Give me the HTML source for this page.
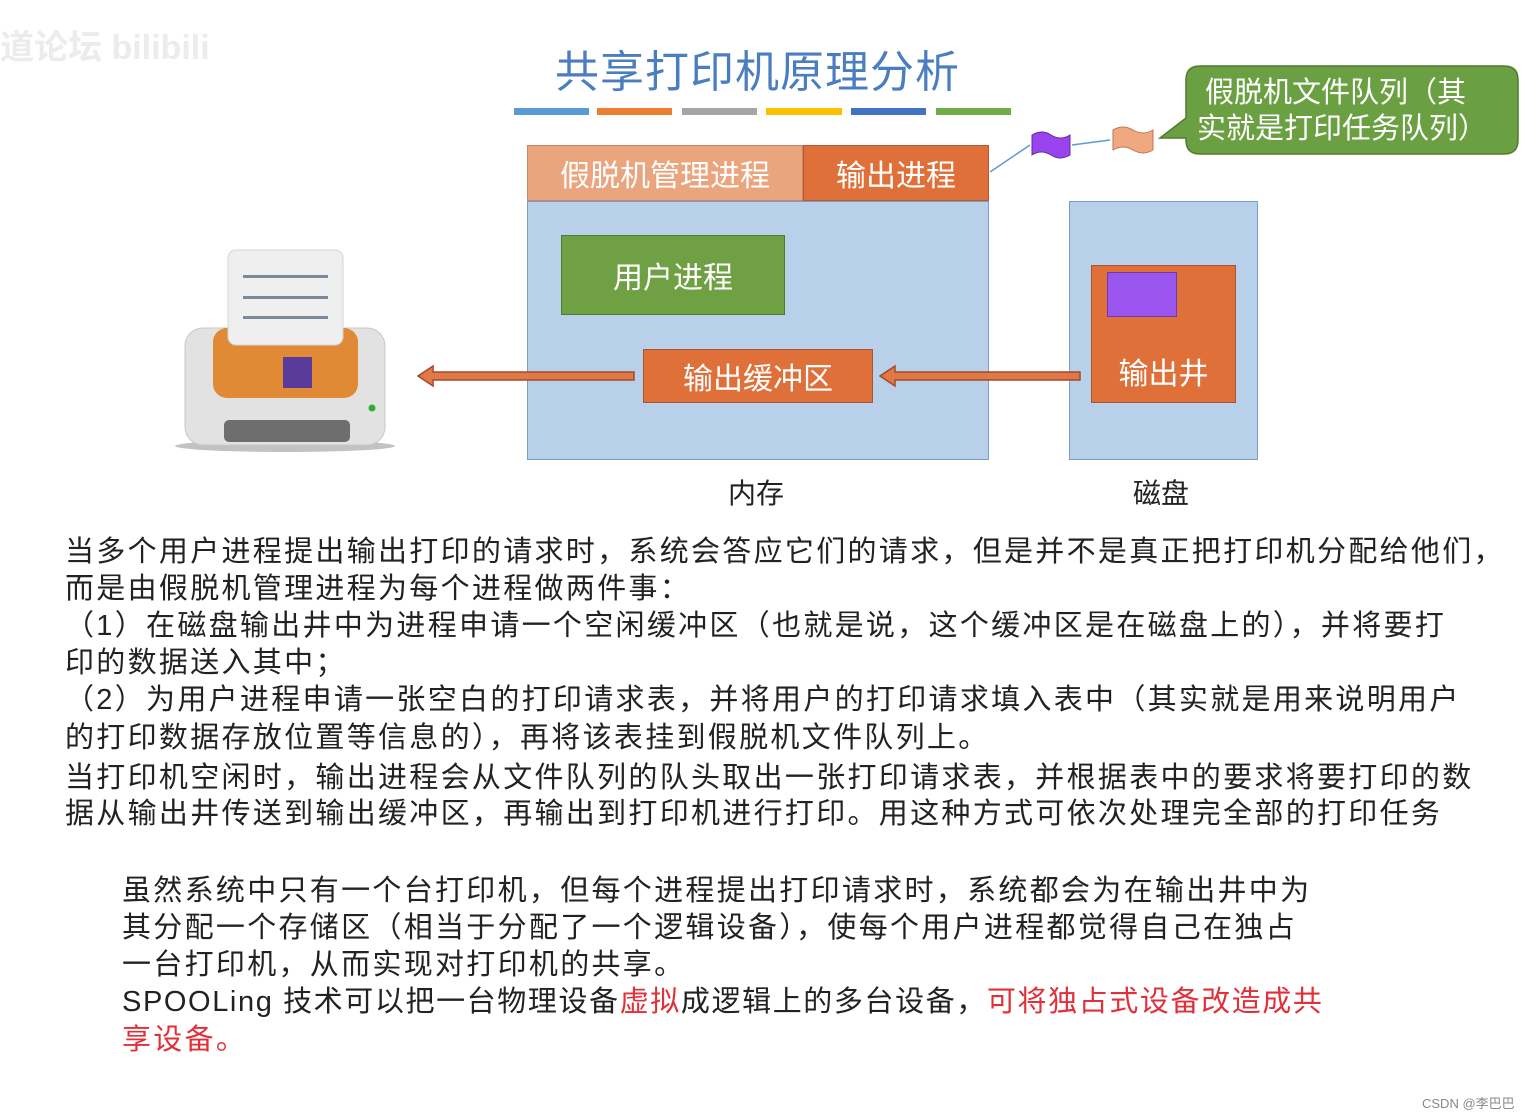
<!DOCTYPE html>
<html><head><meta charset="utf-8"><style>
body{margin:0;width:1536px;height:1118px;background:#fff;position:relative;overflow:hidden;font-family:"Liberation Sans","Noto Sans CJK SC",sans-serif}
.a{position:absolute;white-space:nowrap}
.t{font-size:29px;letter-spacing:2.3px;color:#222;line-height:37px}
.b{position:absolute;box-sizing:border-box;color:#fff;display:flex;align-items:center;justify-content:center;font-size:30px}
.r{color:#e0303a}
</style></head><body>
<div class="a" style="left:0;top:20px;font-size:34px;color:#ececec;font-weight:bold">道论坛 bilibili</div>
<div class="a" style="left:555px;top:36px;font-size:44px;color:#4a7ec0;letter-spacing:1px">共享打印机原理分析</div>
<div class="a" style="left:514px;top:108px;width:75px;height:7px;background:#5b9bd5"></div>
<div class="a" style="left:597px;top:108px;width:75px;height:7px;background:#ed7d31"></div>
<div class="a" style="left:682px;top:108px;width:75px;height:7px;background:#a5a5a5"></div>
<div class="a" style="left:766px;top:108px;width:76px;height:7px;background:#ffc000"></div>
<div class="a" style="left:851px;top:108px;width:75px;height:7px;background:#4472c4"></div>
<div class="a" style="left:936px;top:108px;width:75px;height:7px;background:#70ad47"></div>

<div class="b" style="left:527px;top:201px;width:462px;height:259px;background:#b8d0ea;border:1.5px solid #7a9cc8"></div>
<div class="b" style="left:527px;top:145px;width:276px;height:56px;background:#eaa57e;border:1px solid #c88866">假脱机管理进程</div>
<div class="b" style="left:803px;top:145px;width:186px;height:56px;background:#e0703a;border:1px solid #b85a2e">输出进程</div>
<div class="b" style="left:561px;top:235px;width:224px;height:80px;background:#70a044;border:1px solid #4f7a30">用户进程</div>
<div class="b" style="left:643px;top:349px;width:230px;height:54px;background:#e0703a;border:1px solid #a85530">输出缓冲区</div>
<div class="b" style="left:1069px;top:201px;width:189px;height:259px;background:#b8d0ea;border:1.5px solid #7a9cc8"></div>
<div class="b" style="left:1091px;top:265px;width:145px;height:138px;background:#e0703a;border:1px solid #a85530;padding-top:74px">输出井</div>
<div class="a" style="left:1107px;top:272px;width:68px;height:43px;background:#9955ee;border:1px solid #6a3ab0"></div>
<div class="a" style="left:728px;top:472px;font-size:28px;color:#222">内存</div>
<div class="a" style="left:1133px;top:472px;font-size:28px;color:#222">磁盘</div>

<svg class="a" style="left:0;top:0" width="1536" height="520">
<polygon points="1080,372 895,372 895,366 880,376 895,386 895,380 1080,380" fill="#e07848" stroke="#a04a28" stroke-width="1.5"/>
<polygon points="634,372 433,372 433,366 418,376 433,386 433,380 634,380" fill="#e07848" stroke="#a04a28" stroke-width="1.5"/>
<line x1="990" y1="172" x2="1030" y2="145" stroke="#5b9bd5" stroke-width="1.5"/>
<line x1="1072" y1="145" x2="1110" y2="140" stroke="#5b9bd5" stroke-width="1.5"/>
<path d="M1032,135 q10,-6 19,0 q10,6 19,0 v20 q-10,6 -19,0 q-10,-6 -19,0z" fill="#9944ee" stroke="#5a2aa0"/>
<path d="M1113,130 q10,-6 20,0 q10,6 20,0 v20 q-10,6 -20,0 q-10,-6 -20,0z" fill="#f0a880" stroke="#c07050"/>
<path d="M1200,66 h304 q14,0 14,14 v60 q0,14 -14,14 h-304 q-14,0 -14,-14 v-2 l-26,0 l26,-20 v-38 q0,-14 14,-14z" fill="#6aa042" stroke="#4f7a30" stroke-width="1.5"/>
<text x="1205" y="102" font-size="29" fill="#fff" font-family="Liberation Sans,Noto Sans CJK SC,sans-serif">假脱机文件队列（其</text>
<text x="1197" y="138" font-size="29" fill="#fff" font-family="Liberation Sans,Noto Sans CJK SC,sans-serif">实就是打印任务队列）</text>
<ellipse cx="285" cy="446" rx="110" ry="6" fill="#999" opacity="0.6"/>
<rect x="185" y="328" width="200" height="117" rx="18" fill="#e2e2e2" stroke="#c8c8c8"/>
<rect x="213" y="328" width="145" height="70" rx="14" fill="#e08a36"/>
<rect x="228" y="250" width="115" height="95" rx="8" fill="#efefef" stroke="#d4d4d4"/>
<rect x="243" y="275" width="85" height="3" fill="#7a8a98"/>
<rect x="243" y="296" width="85" height="3" fill="#7a8a98"/>
<rect x="243" y="316" width="85" height="3" fill="#7a8a98"/>
<rect x="283" y="357" width="29" height="31" fill="#5a3a9a"/>
<rect x="224" y="420" width="126" height="22" rx="5" fill="#6e6e6e"/>
<circle cx="372" cy="408" r="3.5" fill="#3a3"/>
</svg>

<div class="a t" style="left:65px;top:534px">当多个用户进程提出输出打印的请求时，系统会答应它们的请求，但是并不是真正把打印机分配给他们，</div>
<div class="a t" style="left:65px;top:571px">而是由假脱机管理进程为每个进程做两件事：</div>
<div class="a t" style="left:65px;top:608px">（1）在磁盘输出井中为进程申请一个空闲缓冲区（也就是说，这个缓冲区是在磁盘上的），并将要打</div>
<div class="a t" style="left:65px;top:645px">印的数据送入其中；</div>
<div class="a t" style="left:65px;top:682px">（2）为用户进程申请一张空白的打印请求表，并将用户的打印请求填入表中（其实就是用来说明用户</div>
<div class="a t" style="left:65px;top:720px">的打印数据存放位置等信息的），再将该表挂到假脱机文件队列上。</div>
<div class="a t" style="left:65px;top:760px">当打印机空闲时，输出进程会从文件队列的队头取出一张打印请求表，并根据表中的要求将要打印的数</div>
<div class="a t" style="left:65px;top:796px">据从输出井传送到输出缓冲区，再输出到打印机进行打印。用这种方式可依次处理完全部的打印任务</div>

<div class="a t" style="left:122px;top:873px">虽然系统中只有一个台打印机，但每个进程提出打印请求时，系统都会为在输出井中为</div>
<div class="a t" style="left:122px;top:910px">其分配一个存储区（相当于分配了一个逻辑设备），使每个用户进程都觉得自己在独占</div>
<div class="a t" style="left:122px;top:947px">一台打印机，从而实现对打印机的共享。</div>
<div class="a t" style="left:122px;top:984px;letter-spacing:1.6px">SPOOLing 技术可以把一台物理设备<span class="r">虚拟</span>成逻辑上的多台设备，<span class="r">可将独占式设备改造成共</span></div>
<div class="a t r" style="left:122px;top:1022px">享设备。</div>
<div class="a" style="left:1422px;top:1093px;font-size:13px;color:#888">CSDN @李巴巴</div>
</body></html>
